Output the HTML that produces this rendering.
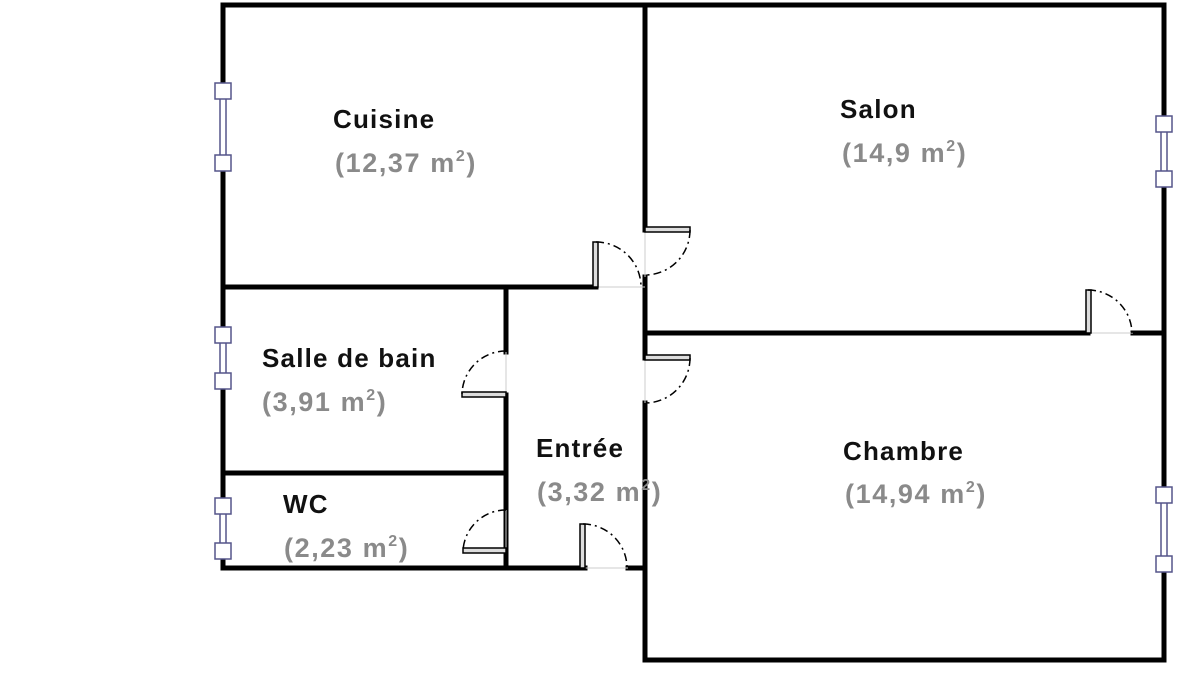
<!DOCTYPE html>
<html><head><meta charset="utf-8"><style>
html,body{margin:0;padding:0;background:#fff;}
svg{display:block;}
.t{font-family:"Liberation Sans",sans-serif;font-weight:bold;font-size:26px;fill:#111;letter-spacing:1.2px;}
.a{font-family:"Liberation Sans",sans-serif;font-weight:bold;font-size:27px;fill:#8a8a8a;letter-spacing:1.6px;}
.s{font-size:16px;}
</style></head><body>
<svg width="1200" height="700" viewBox="0 0 1200 700" xmlns="http://www.w3.org/2000/svg">
<g stroke="#000" stroke-width="5" stroke-linecap="square" fill="none">
<path d="M223 5 H1164 V660 H645 V403"/>
<path d="M645 358 V277"/>
<path d="M645 230 V5"/>
<path d="M223 5 V568 H585"/>
<path d="M628 568 H645"/>
<path d="M223 287 H596"/>
<path d="M645 333 H1088"/>
<path d="M1133 333 H1164"/>
<path d="M506 287 V352"/>
<path d="M506 395 V568"/>
<path d="M223 473 H506"/>
</g>
<g stroke="#ccc" stroke-width="1">
<line x1="596" y1="287" x2="645" y2="287"/><line x1="645" y1="230" x2="645" y2="277"/>
<line x1="506" y1="352" x2="506" y2="395"/><line x1="645" y1="358" x2="645" y2="403"/>
<line x1="506" y1="510" x2="506" y2="551"/><line x1="585" y1="568" x2="628" y2="568"/>
<line x1="1088" y1="333" x2="1133" y2="333"/>
</g>
<g fill="#ddd" stroke="#000" stroke-width="1.5">
<rect x="593" y="242" width="5" height="45"/>
<rect x="645" y="227" width="45" height="5"/>
<rect x="462" y="392" width="44" height="5"/>
<rect x="645" y="355" width="45" height="5"/>
<rect x="463" y="548" width="43" height="5"/>
<rect x="580" y="524" width="5" height="44"/>
<rect x="1086" y="290" width="5" height="43"/>
</g>
<g fill="none" stroke="#000" stroke-width="1.5" stroke-dasharray="8 4 2 4">
<path d="M596 242 A45 45 0 0 1 641 287"/>
<path d="M690 230 A45 45 0 0 1 645 275"/>
<path d="M506 351 A44 44 0 0 0 462 395"/>
<path d="M690 358 A45 45 0 0 1 645 403"/>
<path d="M506 510 A43 43 0 0 0 463 551"/>
<path d="M583 524 A44 44 0 0 1 627 568"/>
<path d="M1088 290 A44 44 0 0 1 1132 333"/>
</g>
<g fill="#fff" stroke="#55558a" stroke-width="1.5">
<rect x="220" y="98" width="6" height="58"/>
<rect x="220" y="342" width="6" height="32"/>
<rect x="220" y="513" width="6" height="31"/>
<rect x="1161" y="131" width="6" height="42"/>
<rect x="1161" y="502" width="6" height="55"/>
<rect x="215" y="83" width="16" height="16"/><rect x="215" y="155" width="16" height="16"/>
<rect x="215" y="327" width="16" height="16"/><rect x="215" y="373" width="16" height="16"/>
<rect x="215" y="498" width="16" height="16"/><rect x="215" y="543" width="16" height="16"/>
<rect x="1156" y="116" width="16" height="16"/><rect x="1156" y="171" width="16" height="16"/>
<rect x="1156" y="487" width="16" height="16"/><rect x="1156" y="556" width="16" height="16"/>
</g>
<text class="t" x="333" y="128">Cuisine</text>
<text class="a" x="335" y="172">(12,37 m<tspan class="s" dy="-11">2</tspan><tspan dy="11">)</tspan></text>
<text class="t" x="840" y="118">Salon</text>
<text class="a" x="842" y="162">(14,9 m<tspan class="s" dy="-11">2</tspan><tspan dy="11">)</tspan></text>
<text class="t" x="262" y="367">Salle de bain</text>
<text class="a" x="262" y="411">(3,91 m<tspan class="s" dy="-11">2</tspan><tspan dy="11">)</tspan></text>
<text class="t" x="536" y="457">Entrée</text>
<text class="a" x="537" y="501">(3,32 m<tspan class="s" dy="-11">2</tspan><tspan dy="11">)</tspan></text>
<text class="t" x="843" y="460">Chambre</text>
<text class="a" x="845" y="503">(14,94 m<tspan class="s" dy="-11">2</tspan><tspan dy="11">)</tspan></text>
<text class="t" x="283" y="513">WC</text>
<text class="a" x="284" y="557">(2,23 m<tspan class="s" dy="-11">2</tspan><tspan dy="11">)</tspan></text>
</svg>
</body></html>
